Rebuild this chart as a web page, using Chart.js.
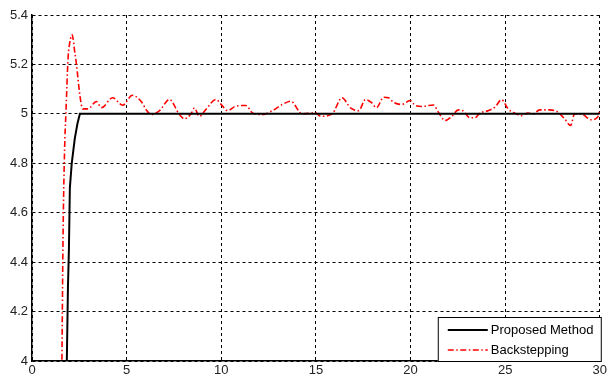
<!DOCTYPE html>
<html>
<head>
<meta charset="utf-8">
<script src="https://cdn.jsdelivr.net/npm/chart.js@4/dist/chart.umd.min.js"></script>
<style>
  html, body { margin: 0; padding: 0; background: #fff; }
  #wrap { width: 609px; height: 379px; }
</style>
</head>
<body>
<div id="wrap"><canvas id="myChart"></canvas></div>
<script>
// data
const xTicks = [0, 5, 10, 15, 20, 25, 30];
const yTicks = [4, 4.2, 4.4, 4.6, 4.8, 5, 5.2, 5.4];

const propTime = [1.7, 1.84, 1.9, 1.95, 2.0, 2.1, 2.26, 2.4, 2.53, 30];
const propVal  = [3.5, 4.0, 4.3, 4.45, 4.7, 4.8, 4.9, 4.96, 5.0, 5.0];

const backTime = [1.5, 1.58, 1.64, 1.72, 1.79, 1.91, 2.0, 2.12, 2.26, 2.35, 2.53, 2.68, 2.95,
  3.4, 3.67, 4.26, 4.79, 5.3, 5.77, 6.05, 6.3, 6.74, 7.26, 7.79, 8.05, 8.4, 8.58, 8.84,
  9.19, 9.72, 10.07, 10.33, 10.77, 11.3, 11.65, 12.17, 12.7, 13.23, 13.67, 14.28, 14.98,
  15.25, 15.86, 16.38, 16.83, 17.26, 17.62, 17.96, 18.2, 18.58, 18.84, 19.1, 19.54, 19.98,
  20.25, 20.6, 21.21, 21.47, 21.83, 22.17, 22.53, 22.79, 23.14, 23.4, 23.67, 24.1, 24.46,
  24.81, 25.16, 25.51, 25.86, 26.21, 26.47, 26.83, 27.35, 27.79, 28.14, 28.46, 28.67,
  29.02, 29.54, 29.89, 30];
const backVal = [3.5, 4.0, 4.5, 4.85, 5.0, 5.23, 5.29, 5.32, 5.25, 5.2, 5.075, 5.02, 5.02,
  5.05, 5.025, 5.065, 5.035, 5.075, 5.05, 5.015, 4.997, 5.013, 5.058, 4.997, 4.98, 5.0, 5.024, 4.99,
  5.018, 5.058, 5.031, 5.013, 5.031, 5.034, 5.004, 4.997, 5.013, 5.038, 5.051, 5.0, 5.004,
  4.99, 5.0, 5.065, 5.024, 5.013, 5.058, 5.044, 5.025, 5.067, 5.065, 5.047, 5.038, 5.054,
  5.034, 5.03, 5.036, 5.007, 4.973, 4.989, 5.016, 5.011, 4.984, 4.984, 5.003, 5.013, 5.027,
  5.057, 5.02, 5.003, 4.993, 5.003, 5.0, 5.016, 5.016, 5.007, 4.98, 4.953, 5.0,
  5.0, 4.976, 4.987, 5.013];

const toPts = (xs, ys) => xs.map((x, i) => ({ x: x, y: ys[i] }));

// legend box drawn inside the plot, bottom right
const boxLegend = {
  id: "boxLegend",
  afterDraw(chart) {
    const { ctx, chartArea } = chart;
    const w = 164, h = 44;
    const x0 = chartArea.right - w + 2, y0 = chartArea.bottom - h;
    ctx.save();
    ctx.fillStyle = "#fff";
    ctx.fillRect(x0, y0, w, h);
    ctx.strokeStyle = "#000";
    ctx.lineWidth = 1;
    ctx.strokeRect(x0 + 0.5, y0 + 0.5, w - 1, h);
    ctx.font = "13px 'Liberation Sans', Arial, sans-serif";
    ctx.textBaseline = "middle";
    ctx.fillStyle = "#000";
    chart.data.datasets.forEach((ds, i) => {
      const y = y0 + 13 + i * 20;
      ctx.beginPath();
      ctx.strokeStyle = ds.borderColor;
      ctx.lineWidth = ds.borderWidth;
      ctx.setLineDash(ds.borderDash || []);
      ctx.moveTo(x0 + 10, y);
      ctx.lineTo(x0 + 50, y);
      ctx.stroke();
      ctx.setLineDash([]);
      ctx.fillText(ds.label, x0 + 53, y);
    });
    ctx.restore();
  }
};

const ctx = document.getElementById("myChart");
new Chart(ctx, {
  type: "line",
  data: {
    datasets: [
      {
        label: "Proposed Method",
        data: toPts(propTime, propVal),
        borderColor: "#000",
        borderWidth: 2,
        pointRadius: 0,
        tension: 0
      },
      {
        label: "Backstepping",
        data: toPts(backTime, backVal),
        borderColor: "rgb(255, 0, 0)",
        borderWidth: 1.6,
        borderDash: [6, 2.5, 1.5, 2.5],
        pointRadius: 0,
        cubicInterpolationMode: "monotone"
      }
    ]
  },
  options: {
    responsive: true,
    maintainAspectRatio: false,
    animation: false,
    layout: { padding: { top: 15, right: 7, left: 0, bottom: 0 } },
    plugins: {
      legend: { display: false },
      tooltip: { enabled: false }
    },
    scales: {
      x: {
        type: "linear",
        min: 0,
        max: 30,
        afterBuildTicks: (s) => { s.ticks = xTicks.map(v => ({ value: v })); },
        afterFit: (s) => { s.height = 18; },
        ticks: {
          color: "#222",
          padding: 2,
          maxRotation: 0,
          font: { family: "'Liberation Sans', Arial, sans-serif", size: 13 }
        },
        grid: { color: "#000", lineWidth: 1, drawTicks: false },
        border: { display: true, color: "#000", width: 1.5, dash: [3, 3] }
      },
      y: {
        min: 4,
        max: 5.4,
        afterBuildTicks: (s) => { s.ticks = yTicks.map(v => ({ value: v })); },
        afterFit: (s) => { s.width = 32; },
        ticks: {
          color: "#222",
          padding: 4,
          callback: (v) => String(Math.round(v * 10) / 10),
          font: { family: "'Liberation Sans', Arial, sans-serif", size: 13 }
        },
        grid: { color: "#000", lineWidth: 1, drawTicks: false },
        border: { display: true, color: "#000", width: 1.5, dash: [3, 3] }
      }
    }
  },
  plugins: [boxLegend]
});
</script>
</body>
</html>
